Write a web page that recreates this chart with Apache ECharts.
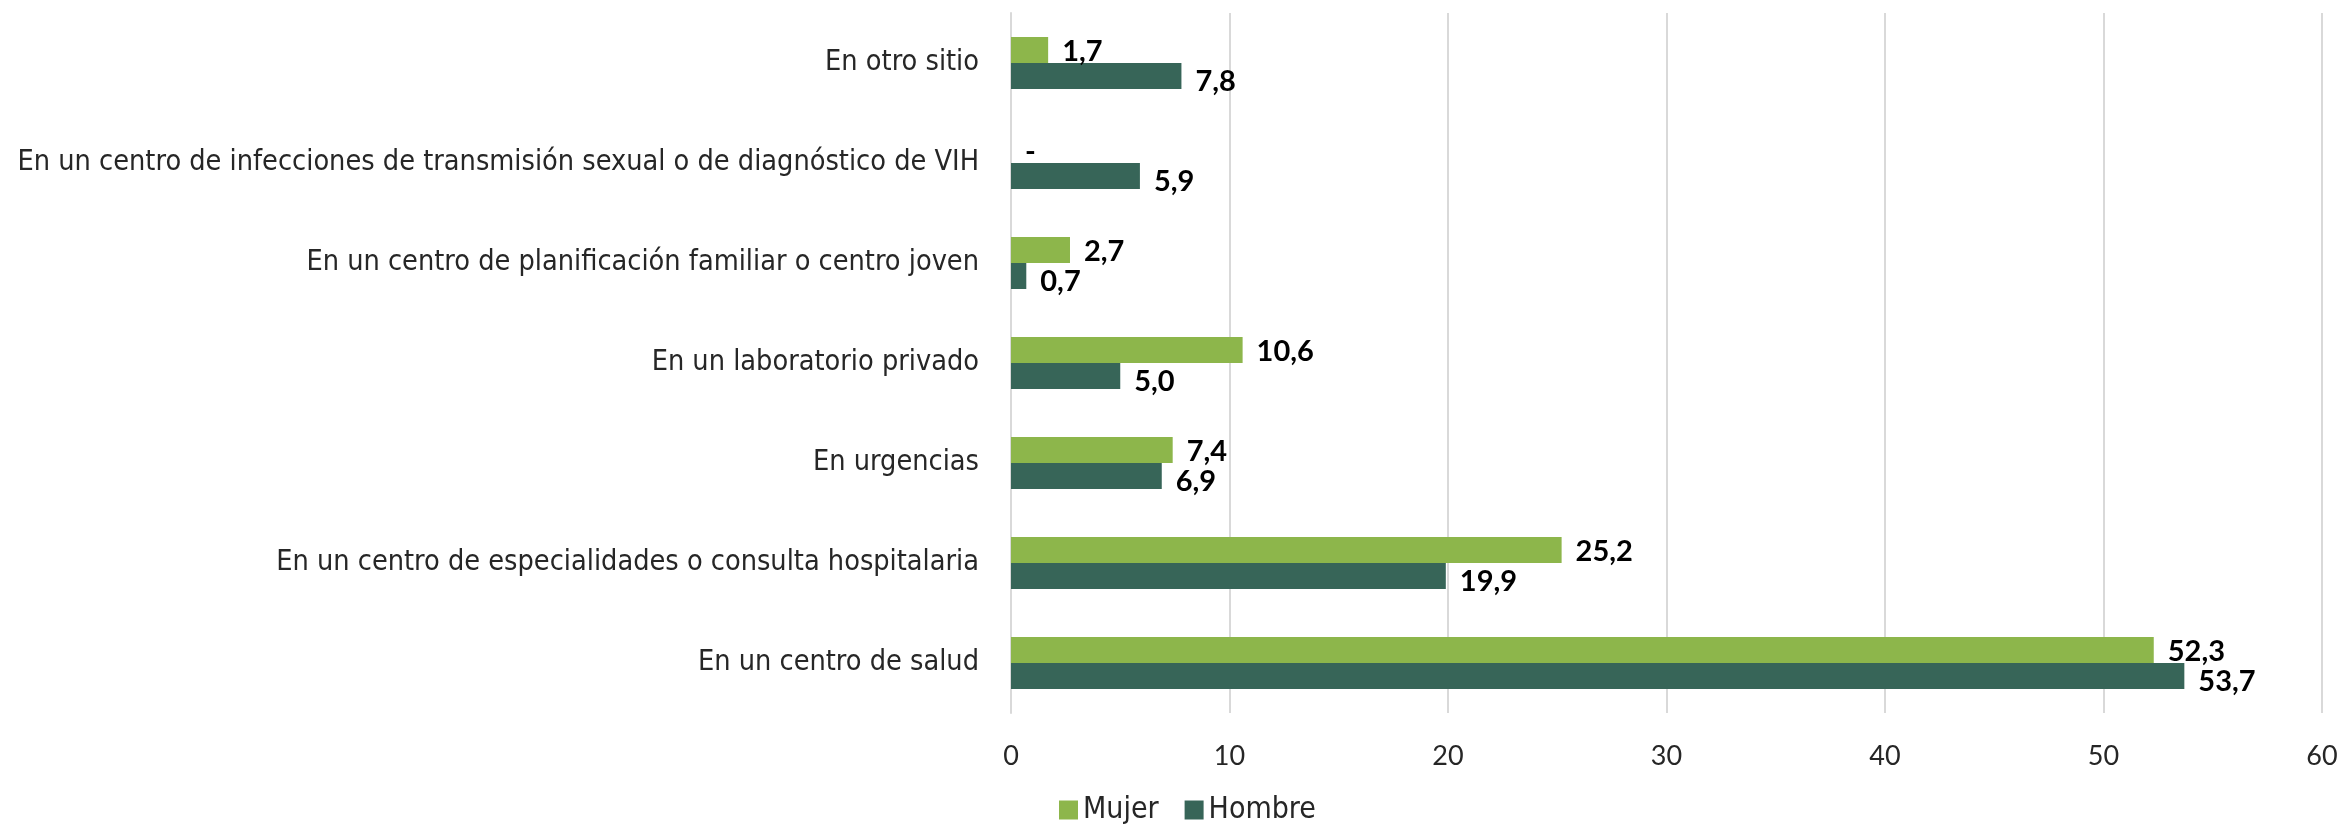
<!DOCTYPE html>
<html>
<head>
<meta charset="utf-8">
<script src="https://cdn.jsdelivr.net/npm/echarts@6/dist/echarts.min.js"></script>
<style>
  html, body { margin: 0; padding: 0; background: #ffffff; }
  #chart { width: 2343px; height: 832px; }
</style>
</head>
<body>
<div id="chart"></div>
<script>
// Places, listed bottom to top as drawn on the category axis
const categories = [
  'En un centro de salud',
  'En un centro de especialidades o consulta hospitalaria',
  'En urgencias',
  'En un laboratorio privado',
  'En un centro de planificación familiar o centro joven',
  'En un centro de infecciones de transmisión sexual o de diagnóstico de VIH',
  'En otro sitio'
];
// Percentages by sex (null = no data, shown as "-")
const mujer = [52.3, 25.2, 7.4, 10.6, 2.7, null, 1.7];
const hombre = [53.7, 19.9, 6.9, 5.0, 0.7, 5.9, 7.8];
const xTicks = [0, 10, 20, 30, 40, 50, 60];

const TEXT_FONT = '"Liberation Sans Narrow", "DejaVu Sans Condensed", Lato, sans-serif';
const NUM_FONT = 'Lato, "Liberation Sans", sans-serif';
const fmt = v => (v == null ? '-' : v.toFixed(1).replace('.', ','));

const chart = echarts.init(document.getElementById('chart'), null, { renderer: 'canvas' });

const labelStyle = {
  show: true,
  position: 'right',
  distance: 14,
  fontFamily: NUM_FONT,
  fontWeight: 'bold',
  fontSize: 29,
  color: '#000000'
};

chart.setOption({
  animation: false,
  backgroundColor: '#ffffff',
  grid: { left: 1011, right: 21, top: 13, bottom: 119, containLabel: false },
  legend: {
    data: ['Mujer', 'Hombre'],
    bottom: 2,
    left: 1054,
    itemWidth: 19,
    itemHeight: 19,
    itemGap: 26,
    icon: 'rect',
    textStyle: { fontFamily: TEXT_FONT, fontSize: 30, color: '#262626' }
  },
  xAxis: {
    type: 'value',
    min: xTicks[0],
    max: xTicks[xTicks.length - 1],
    interval: 10,
    axisLine: { show: false },
    axisTick: { show: false },
    splitLine: { lineStyle: { color: '#d9d9d9', width: 2 } },
    axisLabel: { margin: 30, fontFamily: NUM_FONT, fontSize: 27, color: '#262626' }
  },
  yAxis: {
    type: 'category',
    data: categories,
    axisLine: { show: true, lineStyle: { color: '#d9d9d9', width: 2 } },
    axisTick: { show: false },
    axisLabel: { margin: 32, fontFamily: TEXT_FONT, fontSize: 28.6, color: '#262626' }
  },
  series: [
    {
      name: 'Mujer',
      type: 'bar',
      data: mujer.map(v => (v == null ? 0 : v)),
      barGap: '0%',
      barCategoryGap: '48%',
      itemStyle: { color: '#8db64b' },
      label: Object.assign({}, labelStyle, {
        offset: [0, 2],
        formatter: p => fmt(mujer[p.dataIndex])
      })
    },
    {
      name: 'Hombre',
      type: 'bar',
      data: hombre,
      barGap: '0%',
      barCategoryGap: '48%',
      itemStyle: { color: '#376558' },
      label: Object.assign({}, labelStyle, {
        offset: [0, 6],
        formatter: p => fmt(hombre[p.dataIndex])
      })
    }
  ]
});
</script>
</body>
</html>
